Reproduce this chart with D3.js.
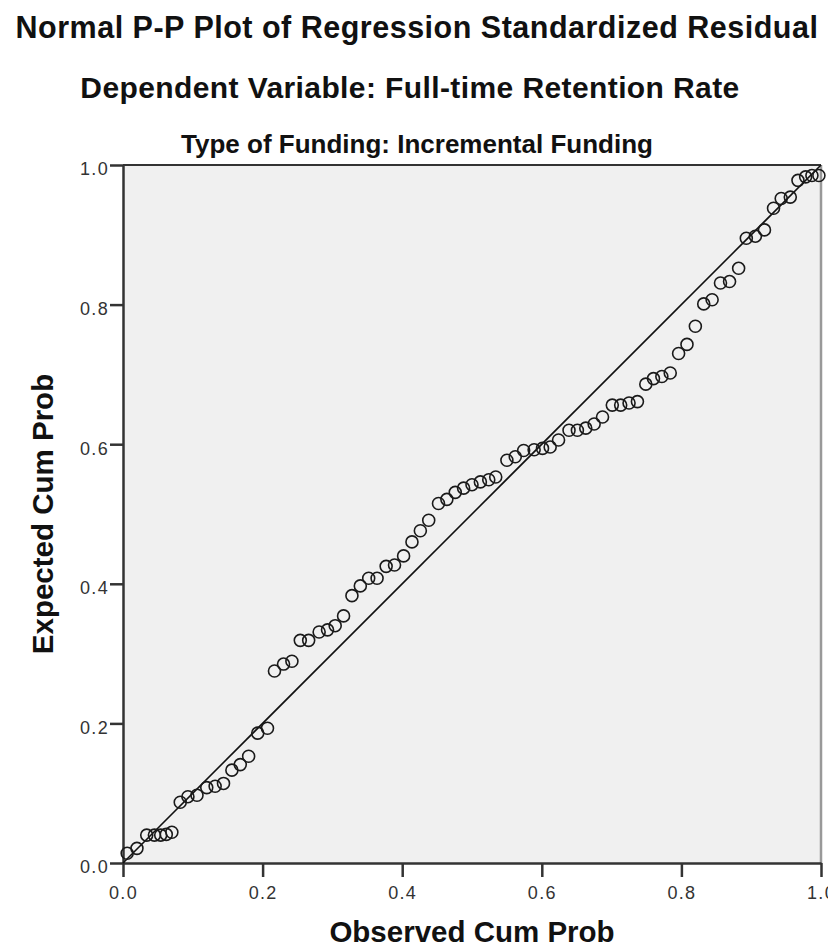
<!DOCTYPE html>
<html>
<head>
<meta charset="utf-8">
<script src="https://cdnjs.cloudflare.com/ajax/libs/d3/7.8.5/d3.min.js"></script>
<style>
  body { margin: 0; background: #fff; overflow: hidden; }
  svg { display: block; }
  text { font-family: "Liberation Sans", Arial, sans-serif; }
</style>
</head>
<body>
<script>
// observed cumulative probability (x) for each residual
const observed = [
  0.006, 0.020, 0.034, 0.045, 0.054, 0.062, 0.070, 0.082, 0.093, 0.106,
  0.120, 0.132, 0.144, 0.156, 0.168, 0.180, 0.193, 0.207, 0.217, 0.230,
  0.242, 0.254, 0.266, 0.281, 0.293, 0.304, 0.316, 0.328, 0.340, 0.352,
  0.364, 0.377, 0.389, 0.402, 0.414, 0.426, 0.438, 0.452, 0.464, 0.476,
  0.488, 0.500, 0.512, 0.524, 0.534, 0.550, 0.562, 0.574, 0.589, 0.601,
  0.612, 0.624, 0.639, 0.651, 0.663, 0.675, 0.687, 0.701, 0.713, 0.725,
  0.737, 0.749, 0.760, 0.772, 0.784, 0.796, 0.808, 0.820, 0.832, 0.844,
  0.856, 0.869, 0.882, 0.893, 0.906, 0.919, 0.932, 0.943, 0.956, 0.967,
  0.978, 0.987, 0.997
];
// expected cumulative probability (y)
const expected = [
  0.014, 0.021, 0.040, 0.040, 0.040, 0.041, 0.044, 0.087, 0.095, 0.097,
  0.108, 0.110, 0.114, 0.133, 0.141, 0.153, 0.186, 0.193, 0.275, 0.285,
  0.289, 0.319, 0.319, 0.331, 0.334, 0.340, 0.354, 0.383, 0.397, 0.408,
  0.408, 0.425, 0.427, 0.440, 0.460, 0.476, 0.491, 0.515, 0.521, 0.531,
  0.537, 0.542, 0.546, 0.549, 0.553, 0.577, 0.582, 0.591, 0.592, 0.594,
  0.596, 0.606, 0.620, 0.620, 0.623, 0.629, 0.639, 0.656, 0.656, 0.659,
  0.661, 0.686, 0.694, 0.697, 0.702, 0.730, 0.743, 0.769, 0.801, 0.807,
  0.831, 0.833, 0.852, 0.895, 0.898, 0.907, 0.938, 0.952, 0.954, 0.978,
  0.983, 0.985, 0.985
];
const tickVals = [0, 0.2, 0.4, 0.6, 0.8, 1.0];

const width = 828, height = 951;
const plotL = 123, plotR = 821, plotT = 165, plotB = 863;

const svg = d3.select("body").append("svg")
  .attr("width", width)
  .attr("height", height);

// titles
svg.append("text")
  .attr("x", 417).attr("y", 38)
  .attr("text-anchor", "middle")
  .attr("font-size", 30.5)
  .attr("font-weight", "bold")
  .attr("letter-spacing", 0.5)
  .attr("fill", "#111")
  .text("Normal P-P Plot of Regression Standardized Residual");
svg.append("text")
  .attr("x", 410).attr("y", 98)
  .attr("text-anchor", "middle")
  .attr("font-size", 30)
  .attr("font-weight", "bold")
  .attr("letter-spacing", 0.4)
  .attr("fill", "#111")
  .text("Dependent Variable: Full-time Retention Rate");
svg.append("text")
  .attr("x", 417).attr("y", 153)
  .attr("text-anchor", "middle")
  .attr("font-size", 26)
  .attr("font-weight", "bold")
  .attr("fill", "#111")
  .text("Type of Funding: Incremental Funding");

var x = d3.scaleLinear().domain([0, 1]).range([plotL, plotR]);
var y = d3.scaleLinear().domain([0, 1]).range([plotB, plotT]);

// plot background
svg.append("rect")
  .attr("x", x(0)).attr("y", y(1))
  .attr("width", x(1) - x(0))
  .attr("height", y(0) - y(1))
  .attr("fill", "#f0f0f0");

// frame: top dark, right grey
svg.append("line")
  .attr("x1", x(0)).attr("x2", x(1))
  .attr("y1", y(1)).attr("y2", y(1))
  .attr("stroke", "#333").attr("stroke-width", 2);
svg.append("line")
  .attr("x1", x(1)).attr("x2", x(1))
  .attr("y1", y(1)).attr("y2", y(0))
  .attr("stroke", "#999").attr("stroke-width", 2.5);

// axes
const xAxis = svg.append("g")
  .attr("transform", `translate(0,${y(0)})`)
  .call(d3.axisBottom(x).tickValues(tickVals).tickFormat(d3.format(".1f"))
    .tickSizeInner(14).tickSizeOuter(0).tickPadding(9));
const yAxis = svg.append("g")
  .attr("transform", `translate(${x(0)},0)`)
  .call(d3.axisLeft(y).tickValues(tickVals).tickFormat(d3.format(".1f"))
    .tickSizeInner(13).tickSizeOuter(0).tickPadding(1));

[xAxis, yAxis].forEach(g => {
  g.select(".domain").attr("stroke", "#333").attr("stroke-width", 2.5);
  g.selectAll(".tick line").attr("stroke", "#333").attr("stroke-width", 2.5);
  g.selectAll(".tick text")
    .attr("font-size", 18)
    .attr("letter-spacing", 1.3)
    .attr("fill", "#333")
    .style("font-family", "'Liberation Sans', Arial, sans-serif");
});
yAxis.selectAll(".tick text").attr("dy", "0.55em");

// diagonal reference line
svg.append("line")
  .attr("x1", x(0)).attr("y1", y(0))
  .attr("x2", x(1)).attr("y2", y(1))
  .attr("stroke", "#111").attr("stroke-width", 1.6);

// points
svg.append("g")
  .selectAll("circle")
  .data(observed.map((o, i) => [o, expected[i]]))
  .enter()
  .append("circle")
  .attr("cx", d => x(d[0]))
  .attr("cy", d => y(d[1]))
  .attr("r", 6)
  .attr("fill", "none")
  .attr("stroke", "#1a1a1a")
  .attr("stroke-width", 1.6);

// axis titles
svg.append("text")
  .attr("x", 472).attr("y", 942)
  .attr("text-anchor", "middle")
  .attr("font-size", 29.5)
  .attr("font-weight", "bold")
  .attr("fill", "#111")
  .text("Observed Cum Prob");
svg.append("text")
  .attr("transform", `translate(53,${(plotT + plotB) / 2}) rotate(-90)`)
  .attr("text-anchor", "middle")
  .attr("font-size", 29.5)
  .attr("font-weight", "bold")
  .attr("fill", "#111")
  .text("Expected Cum Prob");
</script>
</body>
</html>
